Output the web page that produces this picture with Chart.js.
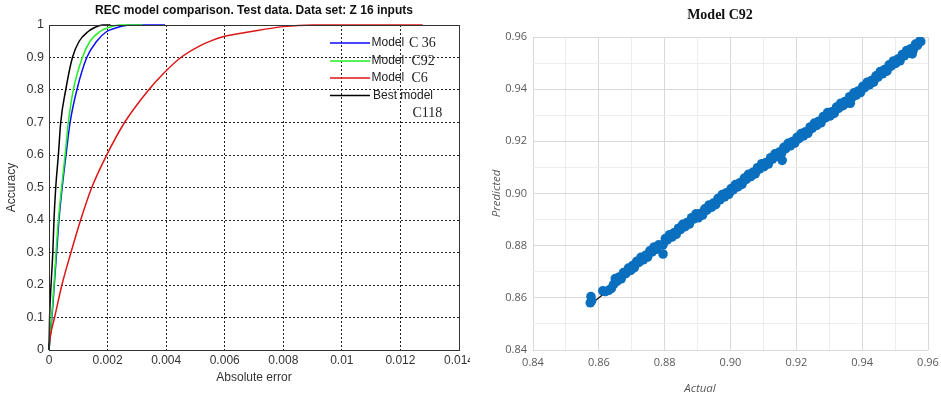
<!DOCTYPE html>
<html>
<head>
<meta charset="utf-8">
<script src="https://cdn.jsdelivr.net/npm/chart.js@4.4.1/dist/chart.umd.min.js"></script>
<style>
html,body{margin:0;padding:0;background:#fff;}
#wrap{position:relative;width:941px;height:398px;overflow:hidden;background:#fff;}
#c1{position:absolute;left:0;top:0;}
#c2{position:absolute;left:470px;top:0;}
</style>
</head>
<body>
<div id="wrap">
<canvas id="c1" width="470" height="398"></canvas>
<canvas id="c2" width="471" height="398"></canvas>
</div>
<script>
// ---------- Left chart: REC curves ----------
const recTitle = 'REC model comparison. Test data. Data set: Z 16 inputs';
const recXTicks = [0, 0.002, 0.004, 0.006, 0.008, 0.01, 0.012, 0.014];
const recYTicks = [0, 0.1, 0.2, 0.3, 0.4, 0.5, 0.6, 0.7, 0.8, 0.9, 1];
const recAccuracy = [0, 0.1, 0.2, 0.3, 0.4, 0.5, 0.6, 0.7, 0.8, 0.9, 0.95, 0.98, 0.99, 1, 1];
const errC36  = [0, 0.00010, 0.00018, 0.00026, 0.00034, 0.00045, 0.00058, 0.00072, 0.00095, 0.00129, 0.00163, 0.00197, 0.00225, 0.00276, 0.00396];
const errC92  = [0, 0.00009, 0.00017, 0.00024, 0.00032, 0.00043, 0.00055, 0.00066, 0.00083, 0.00114, 0.00140, 0.00174, 0.00197, 0.00242, 0.00320];
const errBest = [0, 0.00002, 0.00007, 0.00013, 0.00017, 0.00023, 0.00032, 0.00040, 0.00057, 0.00080, 0.00103, 0.00134, 0.00151, 0.00185, 0.00210];
const accC6   = [0.01, 0.05, 0.1, 0.2, 0.3, 0.4, 0.5, 0.6, 0.7, 0.8, 0.85, 0.9, 0.936, 0.952, 0.964, 0.979, 0.995, 1, 1];
const errC6   = [0, 0.00006, 0.00019, 0.00044, 0.00075, 0.00108, 0.00146, 0.00197, 0.00258, 0.00340, 0.00390, 0.00450, 0.00515, 0.00555, 0.00594, 0.00686, 0.00800, 0.00900, 0.01276];
const legendPrefix = ['Model', 'Model', 'Model', 'Best model'];
const legendSuffix = ['C 36', 'C92', 'C6', ''];
const legendExtra = 'C118';

// ---------- Right chart: scatter ----------
const scatterTitle = 'Model C92';
const scatterXTitle = 'Actual';
const scatterYTitle = 'Predicted';
const actualVals = [
0.8574,0.8576,0.8578,0.8612,0.8620,0.8630,0.8638,0.8645,0.8650,0.8655,0.8662,0.8668,0.8675,0.8682,0.8690,0.8697,0.8703,0.8708,0.8715,0.8722,
0.8728,0.8735,0.8742,0.8748,0.8755,0.8762,0.8768,0.8775,0.8782,0.8795,0.8795,0.8802,0.8808,0.8815,0.8822,0.8828,0.8835,0.8842,0.8848,0.8855,
0.8862,0.8868,0.8875,0.8882,0.8888,0.8895,0.8902,0.8908,0.8915,0.8922,0.8928,0.8935,0.8942,0.8948,0.8955,0.8962,0.8968,0.8975,0.8982,0.8988,
0.8995,0.9002,0.9008,0.9015,0.9022,0.9028,0.9035,0.9042,0.9048,0.9055,0.9062,0.9068,0.9075,0.9082,0.9088,0.9095,0.9102,0.9108,0.9115,0.9122,
0.9128,0.9157,0.9135,0.9142,0.9148,0.9155,0.9162,0.9168,0.9175,0.9182,0.9188,0.9195,0.9202,0.9208,0.9215,0.9222,0.9228,0.9235,0.9242,0.9248,
0.9255,0.9262,0.9268,0.9275,0.9282,0.9288,0.9295,0.9302,0.9308,0.9315,0.9322,0.9328,0.9335,0.9364,0.9342,0.9348,0.9355,0.9362,0.9368,0.9375,
0.9382,0.9388,0.9395,0.9402,0.9408,0.9415,0.9422,0.9428,0.9435,0.9442,0.9448,0.9455,0.9462,0.9468,0.9475,0.9482,0.9488,0.9495,0.9502,0.9508,
0.9515,0.9522,0.9528,0.9535,0.9542,0.9548,0.9552,0.9555,0.9562,0.9568,0.9575,0.9578
];
const predictedVals = [
0.8581,0.8605,0.8588,0.8627,0.8624,0.8629,0.8636,0.8652,0.8674,0.8663,0.8680,0.8673,0.8697,0.8693,0.8714,0.8705,0.8724,0.8716,0.8740,0.8736,
0.8755,0.8746,0.8763,0.8756,0.8780,0.8776,0.8795,0.8786,0.8803,0.8768,0.8803,0.8827,0.8822,0.8842,0.8833,0.8849,0.8843,0.8867,0.8862,0.8882,
0.8873,0.8889,0.8883,0.8907,0.8902,0.8922,0.8907,0.8923,0.8917,0.8941,0.8936,0.8956,0.8947,0.8963,0.8957,0.8981,0.8976,0.8996,0.8987,0.9003,
0.8997,0.9019,0.9014,0.9034,0.9025,0.9041,0.9035,0.9059,0.9054,0.9074,0.9065,0.9081,0.9075,0.9099,0.9094,0.9114,0.9103,0.9119,0.9113,0.9137,
0.9132,0.9127,0.9152,0.9143,0.9159,0.9153,0.9177,0.9172,0.9192,0.9183,0.9199,0.9193,0.9215,0.9210,0.9230,0.9221,0.9237,0.9231,0.9255,0.9250,
0.9270,0.9261,0.9277,0.9271,0.9295,0.9290,0.9310,0.9297,0.9313,0.9307,0.9331,0.9326,0.9346,0.9346,0.9337,0.9353,0.9347,0.9371,0.9366,0.9386,
0.9377,0.9393,0.9387,0.9411,0.9406,0.9426,0.9417,0.9433,0.9427,0.9451,0.9446,0.9468,0.9459,0.9475,0.9469,0.9493,0.9488,0.9508,0.9499,0.9515,
0.9509,0.9533,0.9528,0.9548,0.9539,0.9555,0.9535,0.9549,0.9573,0.9568,0.9584,0.9582
];
const trendActual = [0.8583, 0.9580];
const trendPredicted = [0.8583, 0.9582];

function pts(xs, ys) { return xs.map((x, i) => ({x: x, y: ys[i]})); }

const SANS = '"Liberation Sans", Arial, sans-serif';
const SERIF = '"Liberation Serif", "Times New Roman", serif';

// ----- left chart plugins -----
const recDecor = {
  id: 'recDecor',
  afterDraw(chart) {
    const {ctx, chartArea: a} = chart;
    ctx.save();
    ctx.strokeStyle = '#333';
    ctx.lineWidth = 1;
    ctx.setLineDash([]);
    ctx.strokeRect(Math.round(a.left) + 0.5, Math.round(a.top) + 0.5, Math.round(a.right - a.left), Math.round(a.bottom - a.top));
    // title
    ctx.fillStyle = '#111';
    ctx.font = 'bold 12px ' + SANS;
    ctx.textAlign = 'center';
    ctx.textBaseline = 'middle';
    ctx.fillText(recTitle, (a.left + a.right) / 2, 11);
    // legend
    const colors = chart.data.datasets.map(d => d.borderColor);
    const rows = [43, 61, 78, 95.5];
    const suffixX = [409, 411.5, 411.5, 0];
    for (let i = 0; i < 4; i++) {
      ctx.strokeStyle = colors[i];
      ctx.lineWidth = 1.6;
      ctx.beginPath();
      ctx.moveTo(330, rows[i]);
      ctx.lineTo(370, rows[i]);
      ctx.stroke();
      ctx.fillStyle = '#222';
      ctx.textAlign = 'left';
      ctx.font = '12px ' + SANS;
      ctx.fillText(legendPrefix[i], i === 3 ? 373 : 371.5, rows[i]);
      if (legendSuffix[i]) {
        ctx.font = '14px ' + SERIF;
        ctx.fillText(legendSuffix[i], suffixX[i], rows[i]);
      }
    }
    ctx.font = '14px ' + SERIF;
    ctx.fillText(legendExtra, 412.5, 113);
    ctx.restore();
  }
};

function fmt(v) { return String(parseFloat(v.toFixed(4))); }

new Chart(document.getElementById('c1'), {
  type: 'scatter',
  data: {
    datasets: [
      {label: 'Model C 36', data: pts(errC36, recAccuracy), borderColor: '#0b0bff', order: 3},
      {label: 'Model C92', data: pts(errC92, recAccuracy), borderColor: '#22ee22', order: 2},
      {label: 'Model C6', data: pts(errC6, accC6), borderColor: '#dd1515', order: 1},
      {label: 'Best model C118', data: pts(errBest, recAccuracy), borderColor: '#000000', order: 0}
    ].map(d => Object.assign(d, {showLine: true, pointRadius: 0, borderWidth: 1.5, fill: false,
                                 cubicInterpolationMode: 'monotone', clip: 3}))
  },
  options: {
    responsive: false,
    animation: false,
    events: [],
    layout: {padding: {top: 25, right: 11, left: 0, bottom: 0}},
    plugins: {legend: {display: false}, tooltip: {enabled: false}, title: {display: false}},
    scales: {
      x: {
        type: 'linear', min: 0, max: 0.014,
        afterBuildTicks: s => { s.ticks = recXTicks.map(v => ({value: v})); },
        afterFit: s => { s.height = 48; s.paddingRight = 0; s.paddingLeft = 0; },
        ticks: {callback: v => fmt(v), font: {family: SANS, size: 12}, color: '#333', padding: 3, maxRotation: 0, autoSkip: false},
        grid: {color: '#222', lineWidth: 1, drawTicks: false},
        border: {display: false, dash: [2, 2]},
        title: {display: true, text: 'Absolute error', font: {family: SANS, size: 12}, color: '#333', padding: {top: 0, bottom: 12.8}}
      },
      y: {
        type: 'linear', min: 0, max: 1,
        afterBuildTicks: s => { s.ticks = recYTicks.map(v => ({value: v})); },
        afterFit: s => { s.width = 49; },
        ticks: {callback: v => fmt(v), font: {family: SANS, size: 12.5}, color: '#333', padding: 5, autoSkip: false},
        grid: {color: '#222', lineWidth: 1, drawTicks: false},
        border: {display: false, dash: [2, 2]},
        title: {display: true, text: 'Accuracy', font: {family: SANS, size: 12}, color: '#333', padding: {top: 4, bottom: 0}}
      }
    }
  },
  plugins: [recDecor]
});

// ----- right chart -----
const scatterDecor = {
  id: 'scatterDecor',
  afterDraw(chart) {
    const {ctx, chartArea: a} = chart;
    ctx.save();
    ctx.fillStyle = '#111';
    ctx.font = 'bold 14px ' + SERIF;
    ctx.textAlign = 'center';
    ctx.textBaseline = 'middle';
    ctx.fillText(scatterTitle, 250, 15);
    ctx.fillStyle = '#595959';
    ctx.font = 'italic 11.5px "Open Sans", sans-serif';
    ctx.fillText(scatterXTitle, 230, 389);
    ctx.translate(26.5, (a.top + a.bottom) / 2);
    ctx.rotate(-Math.PI / 2);
    ctx.fillText(scatterYTitle, 0, 0);
    ctx.restore();
  }
};

const minorGrid = c => (Math.round(c.tick && c.tick.value * 100) % 2 === 0 ? '#d9d9d9' : '#ededed');
const tickLabel = v => { const k = Math.round(v * 100); return k % 2 === 0 ? (k / 100).toFixed(2) : ''; };
const gridTicks = s => { const t = []; for (let i = 0; i <= 12; i++) t.push({value: 0.84 + i * 0.01}); s.ticks = t; };

new Chart(document.getElementById('c2'), {
  type: 'scatter',
  data: {
    datasets: [
      {label: 'Model C92', data: pts(actualVals, predictedVals), backgroundColor: '#0a6fbf', borderColor: '#0a6fbf',
       pointRadius: 4.8, borderWidth: 0, order: 0},
      {label: 'Trend', data: pts(trendActual, trendPredicted), showLine: true, pointRadius: 0, borderColor: '#111',
       borderWidth: 1.3, order: 1}
    ]
  },
  options: {
    responsive: false,
    animation: false,
    events: [],
    layout: {padding: {top: 37, right: 13, left: 0, bottom: 0}},
    plugins: {legend: {display: false}, tooltip: {enabled: false}, title: {display: false}},
    scales: {
      x: {
        type: 'linear', min: 0.84, max: 0.96,
        afterBuildTicks: gridTicks,
        afterFit: s => { s.height = 48; s.paddingRight = 0; s.paddingLeft = 0; },
        ticks: {callback: tickLabel, font: {family: '"Open Sans", sans-serif', size: 11}, color: '#595959', padding: 6, maxRotation: 0, autoSkip: false},
        grid: {color: minorGrid, lineWidth: 1, drawTicks: false},
        border: {display: false}
      },
      y: {
        type: 'linear', min: 0.84, max: 0.96,
        afterBuildTicks: gridTicks,
        afterFit: s => { s.width = 63; },
        ticks: {callback: tickLabel, font: {family: '"Open Sans", sans-serif', size: 11}, color: '#595959', padding: 6, autoSkip: false},
        grid: {color: minorGrid, lineWidth: 1, drawTicks: false},
        border: {display: false}
      }
    }
  },
  plugins: [scatterDecor]
});
</script>
</body>
</html>
